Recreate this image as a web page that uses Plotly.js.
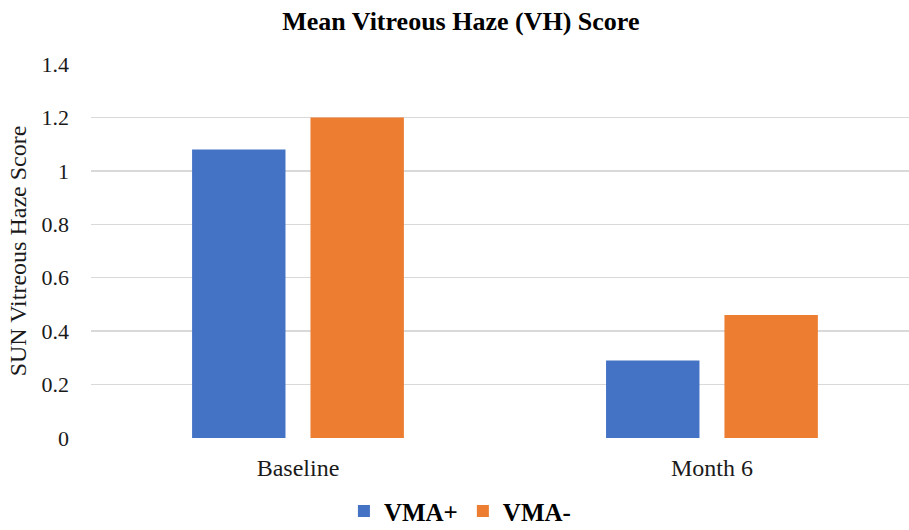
<!DOCTYPE html>
<html>
<head>
<meta charset="utf-8">
<script src="https://cdn.plot.ly/plotly-3.0.1.min.js"></script>
<style>html,body{margin:0;padding:0;background:#fff;}#chart{width:909px;height:530px;}</style>
</head>
<body>
<div id="chart"></div>
<script>
const categories = ["Baseline", "Month 6"];
const seriesNames = ["VMA+", "VMA-"];
const vmaPlus = [1.08, 0.29];
const vmaMinus = [1.2, 0.46];
const yTicks = [0, 0.2, 0.4, 0.6, 0.8, 1, 1.2, 1.4];
const yTickLabels = ["0", "0.2", "0.4", "0.6", "0.8", "1", "1.2", "1.4"];

const serif = "Liberation Serif";
const txt = "#1a1a1a";
const traces = [
  {type: "bar", name: seriesNames[0], x: categories, y: vmaPlus, marker: {color: "#4472C4"}, hoverinfo: "skip"},
  {type: "bar", name: seriesNames[1], x: categories, y: vmaMinus, marker: {color: "#ED7D31"}, hoverinfo: "skip"}
];
const layout = {
  width: 909, height: 530,
  margin: {l: 91, r: 0, t: 64, b: 92, autoexpand: false},
  paper_bgcolor: "#fff", plot_bgcolor: "#fff",
  font: {family: serif, color: txt},
  barmode: "group", bargap: 0.428, bargroupgap: 0.211,
  title: {text: "<b>Mean Vitreous Haze (VH) Score</b>", font: {family: serif, size: 26, color: "#000"},
          x: 0.507, xref: "container", xanchor: "center", y: 0.96, yref: "container", yanchor: "middle"},
  xaxis: {range: [-0.5, 1.476], showgrid: false, zeroline: false, showline: false, automargin: false,
          tickfont: {family: serif, size: 24, color: txt}, ticklabelstandoff: 13, fixedrange: true},
  yaxis: {range: [0, 1.4], tickvals: yTicks, ticktext: yTickLabels, showgrid: true, gridcolor: "#d9d9d9", gridwidth: 1.5,
          zeroline: false, showline: false, automargin: false, tickfont: {family: serif, size: 22, color: txt}, ticklabelstandoff: 21,
          title: {text: "SUN Vitreous Haze Score", font: {family: serif, size: 24, color: txt}, standoff: 8}, fixedrange: true},
  showlegend: true,
  legend: {orientation: "h", x: 0.451, xanchor: "center", y: -0.196, yanchor: "middle",
           font: {family: serif, size: 25, color: "#000", weight: "bold"}, itemwidth: 30, traceorder: "normal"}
};
Plotly.newPlot("chart", traces, layout, {displayModeBar: false, staticPlot: true});
</script>
</body>
</html>
